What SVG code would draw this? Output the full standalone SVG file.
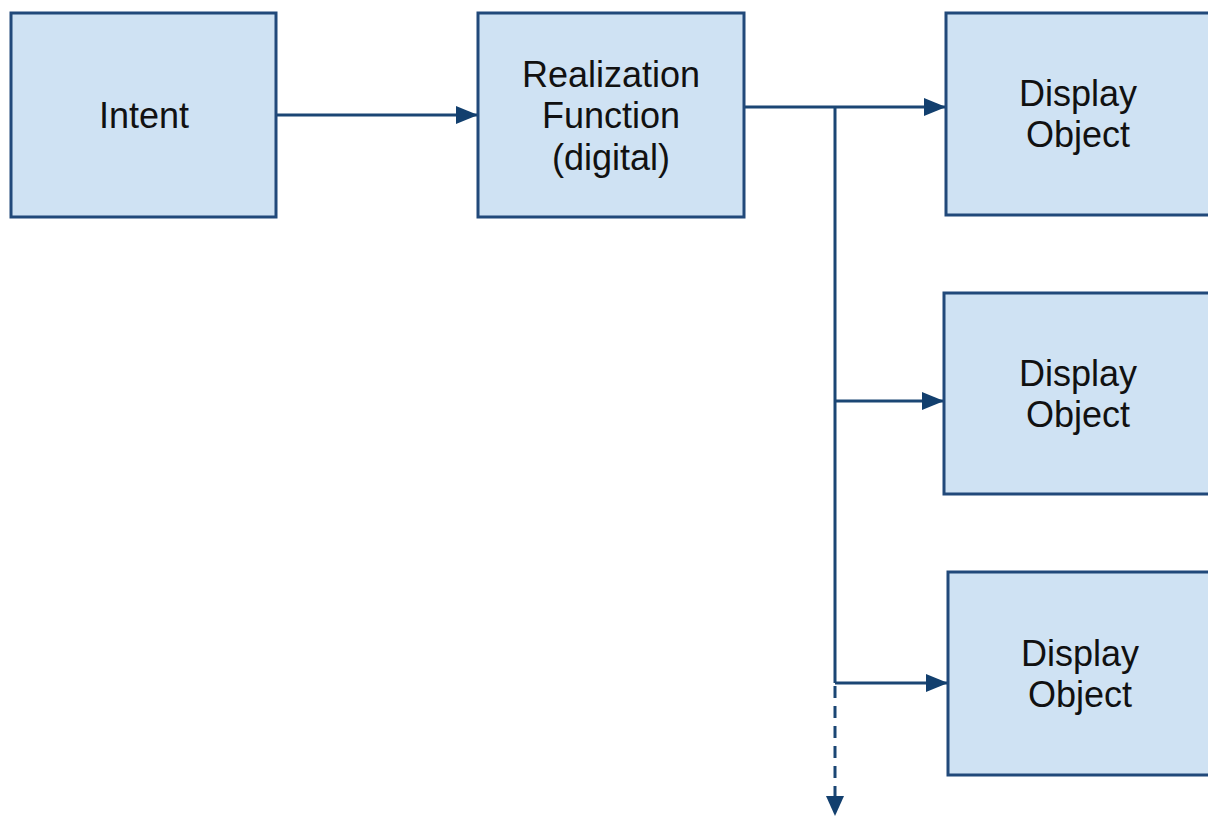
<svg xmlns="http://www.w3.org/2000/svg" width="1208" height="818" viewBox="0 0 1208 818">
<style>
.box{fill:#cfe2f3;stroke:#21497a;stroke-width:3}
.lbl{font-family:"Liberation Sans",Arial,sans-serif;font-size:36px;fill:#111;text-anchor:middle}
.con{fill:none;stroke:#1b4674;stroke-width:3}
</style>
<defs>
<marker id="ah" markerWidth="22" markerHeight="18" refX="21" refY="9" orient="auto" markerUnits="userSpaceOnUse">
<path d="M0,0 L22,9 L0,18 Z" fill="#123f6e"/>
</marker>
</defs>
<rect width="1208" height="818" fill="#fff"/>
<g id="connectors">
<path class="con" d="M276,115 H477" marker-end="url(#ah)"/>
<path class="con" d="M744,107 H945" marker-end="url(#ah)"/>
<path class="con" d="M835,107 V683"/>
<path class="con" d="M835,401 H943" marker-end="url(#ah)"/>
<path class="con" d="M835,683 H947" marker-end="url(#ah)"/>
<path class="con" d="M835,686 V798" stroke-dasharray="12,8"/>
<path d="M826,796 L835,816 L844,796 Z" fill="#123f6e"/>
</g>
<g id="intent">
<rect class="box" x="11" y="13" width="265" height="204"/>
<text class="lbl" x="144" y="128">Intent</text>
</g>
<g id="realization">
<rect class="box" x="478" y="13" width="266" height="204"/>
<text class="lbl" x="611" y="87">Realization</text>
<text class="lbl" x="611" y="128">Function</text>
<text class="lbl" x="611" y="170">(digital)</text>
</g>
<g id="display1">
<rect class="box" x="946" y="13" width="266" height="202"/>
<text class="lbl" x="1078" y="106">Display</text>
<text class="lbl" x="1078" y="147">Object</text>
</g>
<g id="display2">
<rect class="box" x="944" y="293" width="268" height="201"/>
<text class="lbl" x="1078" y="386">Display</text>
<text class="lbl" x="1078" y="427">Object</text>
</g>
<g id="display3">
<rect class="box" x="948" y="572" width="264" height="203"/>
<text class="lbl" x="1080" y="666">Display</text>
<text class="lbl" x="1080" y="707">Object</text>
</g>
</svg>
